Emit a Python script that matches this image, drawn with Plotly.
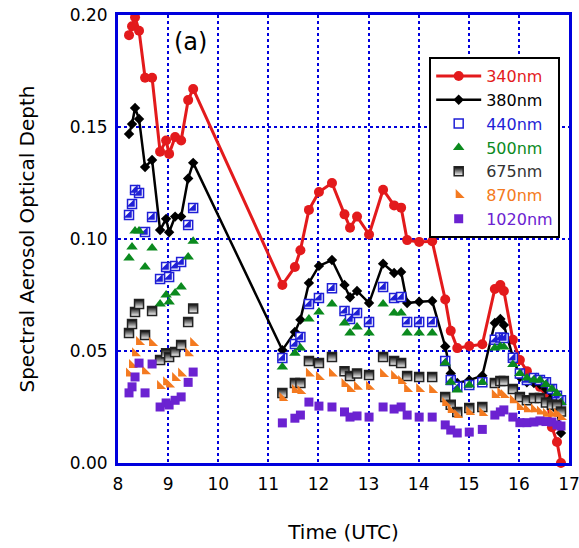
import plotly.graph_objects as go

# ---- data ----
t_left = [8.22, 8.28, 8.34, 8.42, 8.54, 8.68, 8.84, 8.96, 9.02, 9.14, 9.26, 9.40, 9.50]
t_mid = [11.28, 11.53, 11.64, 11.81, 12.01, 12.27, 12.52, 12.63, 12.77, 13.01, 13.29, 13.51,
         13.65, 13.77, 14.01, 14.27]
t_right = [14.53, 14.64, 14.77, 15.01, 15.27, 15.52, 15.63, 15.70, 15.88, 16.02, 16.16, 16.30,
           16.42, 16.54, 16.66, 16.76, 16.84]
time_utc = t_left + t_mid + t_right

aod_340 = [0.191, 0.195, 0.199, 0.193, 0.172, 0.172, 0.139, 0.144, 0.138, 0.1455, 0.144, 0.162, 0.167,
           0.0795, 0.0875, 0.095, 0.113, 0.121, 0.125, 0.111, 0.105, 0.110, 0.102, 0.122, 0.115,
           0.114, 0.0995, 0.0987, 0.099,
           0.073, 0.059, 0.0513, 0.0522, 0.053, 0.0777, 0.0795, 0.0768, 0.055, 0.046, 0.041,
           0.037, 0.034, 0.030, 0.016, 0.0094, 0.0]
aod_380 = [0.1469, 0.1513, 0.1585, 0.1536, 0.1321, 0.1353, 0.104, 0.109, 0.103, 0.110, 0.110, 0.127, 0.134,
           0.0504, 0.0585, 0.064, 0.0804, 0.088, 0.0906, 0.0795, 0.074, 0.0768, 0.0714, 0.089, 0.0848,
           0.0853, 0.0714, 0.072, 0.0723,
           0.052, 0.040, 0.0357, 0.037, 0.039, 0.0625, 0.0643, 0.0616, 0.0473, 0.0384, 0.036,
           0.0357, 0.035, 0.033, 0.029, 0.0237, 0.0134]
aod_440 = [0.1107, 0.1156, 0.1219, 0.1205, 0.1031, 0.1098, 0.0821, 0.0875, 0.083, 0.088, 0.0897, 0.1063, 0.1138,
           0.0469, 0.0531, 0.0562, 0.071, 0.0737, 0.078, 0.0679, 0.0643, 0.067, 0.063, 0.0786, 0.0737,
           0.0741, 0.063, 0.063, 0.063,
           0.0455, 0.037, 0.034, 0.0348, 0.036, 0.055, 0.056, 0.0558, 0.047, 0.040, 0.037,
           0.038, 0.037, 0.036, 0.033, 0.030, 0.028]
aod_500 = [0.0915, 0.0964, 0.1036, 0.1036, 0.0875, 0.096, 0.071, 0.075, 0.0719, 0.0759, 0.0786, 0.092, 0.099,
           0.0429, 0.049, 0.0513, 0.0643, 0.0674, 0.071, 0.0625, 0.058, 0.0607, 0.058, 0.071, 0.067,
           0.067, 0.058, 0.058, 0.058,
           0.0446, 0.036, 0.0326, 0.0348, 0.036, 0.0513, 0.052, 0.0518, 0.044, 0.040, 0.038,
           0.037, 0.037, 0.035, 0.033, 0.031, 0.027]
aod_675 = [0.058, 0.062, 0.0674, 0.071, 0.0571, 0.0679, 0.046, 0.049, 0.0473, 0.0496, 0.0527, 0.063, 0.069,
           0.0313, 0.0357, 0.0357, 0.0455, 0.0446, 0.0473, 0.041, 0.0388, 0.040, 0.0393, 0.0473, 0.0455,
           0.0446, 0.0388, 0.0384, 0.0384,
           0.0295, 0.026, 0.0228, 0.0245, 0.025, 0.0357, 0.0366, 0.0366, 0.033, 0.0295, 0.028,
           0.029, 0.029, 0.027, 0.026, 0.026, 0.023]
aod_870 = [0.040, 0.0438, 0.049, 0.054, 0.041, 0.0536, 0.0344, 0.036, 0.035, 0.038, 0.040, 0.049, 0.0536,
           0.029, 0.0326, 0.0321, 0.040, 0.0384, 0.040, 0.0353, 0.033, 0.034, 0.034, 0.0397, 0.0388,
           0.0366, 0.033, 0.033, 0.0326,
           0.0268, 0.0237, 0.0214, 0.0228, 0.0223, 0.0304, 0.0313, 0.0304, 0.028, 0.025, 0.024,
           0.024, 0.023, 0.022, 0.022, 0.022, 0.0205]
aod_1020 = [0.0313, 0.034, 0.0384, 0.0446, 0.0313, 0.0442, 0.025, 0.0268, 0.0259, 0.028, 0.0295, 0.036, 0.0406,
            0.0179, 0.020, 0.0214, 0.0272, 0.0254, 0.025, 0.0228, 0.0205, 0.021, 0.0205, 0.025, 0.0241,
            0.025, 0.0214, 0.0205, 0.0205,
            0.017, 0.0147, 0.0134, 0.0138, 0.015, 0.0214, 0.0228, 0.0237, 0.0205, 0.018, 0.018,
            0.0183, 0.0188, 0.0185, 0.0183, 0.017, 0.0165]

x_ticks = [8, 9, 10, 11, 12, 13, 14, 15, 16, 17]
y_ticks = [0.00, 0.05, 0.10, 0.15, 0.20]

RED = "#e31a1c"
BLUE = "#1f1fd6"
GREEN = "#0b8a1e"
ORANGE = "#f47a20"
PURPLE = "#6b22d1"
AXBLUE = "#0000dd"


def lab(txt, col):
    return f"<span style='color:{col}'>{txt}</span>"


fig = go.Figure()

fig.add_trace(go.Scatter(x=time_utc, y=aod_340, mode="lines+markers", name=lab("340nm", RED),
                         line=dict(color=RED, width=3), marker=dict(symbol="circle", size=10, color=RED),
                         cliponaxis=False))
fig.add_trace(go.Scatter(x=time_utc, y=aod_380, mode="lines+markers", name=lab("380nm", "#000000"),
                         line=dict(color="black", width=2.5),
                         marker=dict(symbol="diamond", size=8, color="black")))
# 440: half-filled square (white square w/ blue border + blue lower-right triangle)
fig.add_trace(go.Scatter(x=time_utc, y=aod_440, mode="markers", name=lab("440nm", BLUE),
                         legendgroup="440",
                         marker=dict(symbol="square", size=9, color="white", line=dict(color=BLUE, width=1.5))))
fig.add_trace(go.Scatter(x=time_utc, y=aod_440, mode="markers", showlegend=False, legendgroup="440",
                         marker=dict(symbol="triangle-se", size=9, color=BLUE, line=dict(width=0))))
fig.add_trace(go.Scatter(x=time_utc, y=aod_500, mode="markers", name=lab("500nm", GREEN),
                         marker=dict(symbol="triangle-up", size=10, color=GREEN, line=dict(width=0))))
fig.add_trace(go.Scatter(x=time_utc, y=aod_675, mode="markers", name=lab("675nm", "#333333"),
                         marker=dict(symbol="square", size=9, color="black",
                                     gradient=dict(type="vertical", color="white"),
                                     line=dict(color="#222222", width=1.5))))
fig.add_trace(go.Scatter(x=time_utc, y=aod_870, mode="markers", name=lab("870nm", ORANGE),
                         marker=dict(symbol="triangle-sw", size=10, color=ORANGE, line=dict(width=0))))
fig.add_trace(go.Scatter(x=time_utc, y=aod_1020, mode="markers", name=lab("1020nm", PURPLE),
                         marker=dict(symbol="square", size=9, color=PURPLE, line=dict(width=0))))

fig.add_annotation(x=0.16, y=0.94, xref="paper", yref="paper", text="(a)", showarrow=False,
                   font=dict(size=24, color="black"), xanchor="center", yanchor="middle")

axis_common = dict(showline=True, linecolor=AXBLUE, linewidth=3, mirror=True,
                   showgrid=True, gridcolor=AXBLUE, gridwidth=2, griddash="dot",
                   zeroline=False, ticks="outside", ticklen=4, tickcolor="rgba(0,0,0,0)",
                   tickfont=dict(size=17, color="black"), automargin=False,
                   ticklabeloverflow="allow")

fig.update_xaxes(range=[8, 17], tickvals=x_ticks, ticktext=[str(v) for v in x_ticks],
                 title=dict(text="Time (UTC)", font=dict(size=20, color="black"), standoff=32),
                 **axis_common)
fig.update_yaxes(range=[0, 0.2], tickvals=y_ticks, ticktext=[f"{v:.2f}" for v in y_ticks],
                 title=dict(text="Spectral Aerosol Optical Depth", font=dict(size=20, color="black"),
                            standoff=30),
                 **axis_common)

fig.update_layout(
    width=579, height=548,
    margin=dict(l=118, r=10, t=15, b=85),
    paper_bgcolor="white", plot_bgcolor="white",
    font=dict(family="DejaVu Sans", color="black"),
    legend=dict(x=0.69, y=0.906, xanchor="left", yanchor="top",
                bgcolor="white", bordercolor="black", borderwidth=2,
                font=dict(size=16), itemwidth=45, tracegroupgap=0),
)

fig.write_html("out.html")
